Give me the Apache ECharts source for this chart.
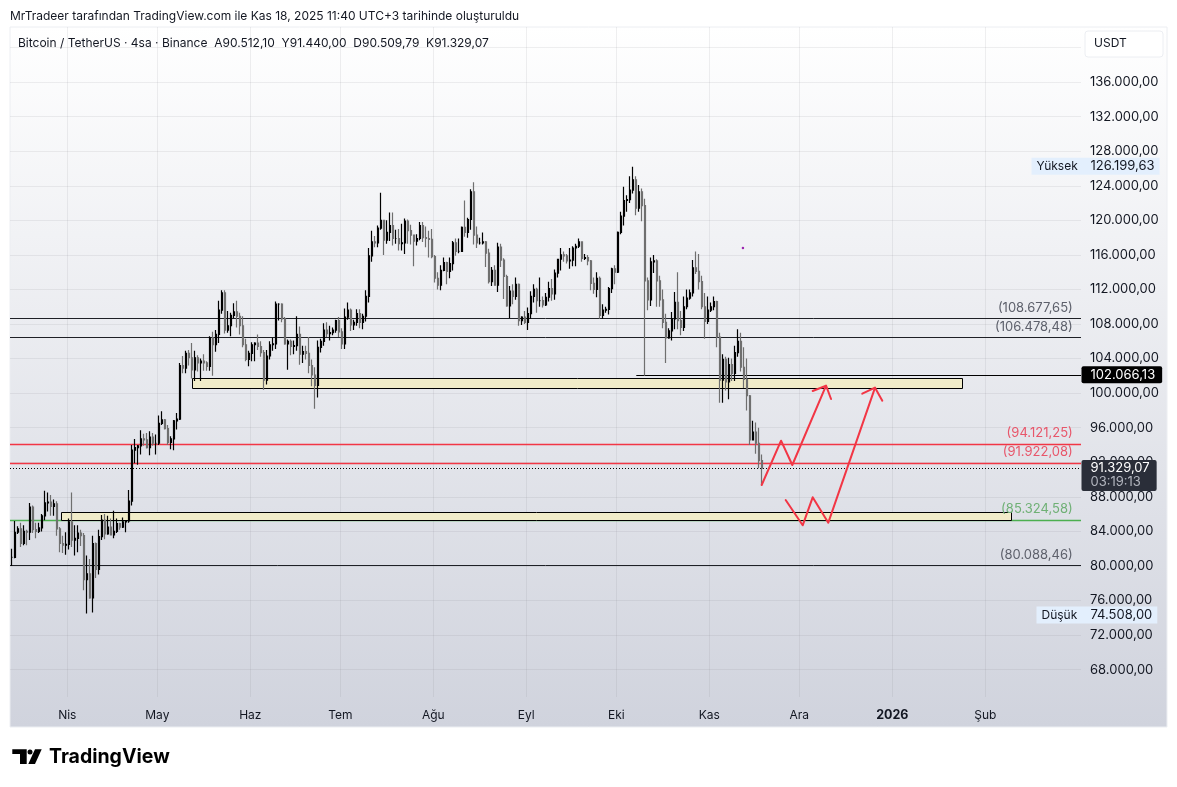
<!DOCTYPE html>
<html>
<head>
<meta charset="utf-8">
<style>
  html, body { margin: 0; padding: 0; background: #fff; }
  #main { width: 1177px; height: 787px; }
</style>
<script src="https://cdn.jsdelivr.net/npm/echarts@6/dist/echarts.min.js"></script>
</head>
<body>
<div id="main"></div>
<script>
// daily bars, first one is Mar 13 2025, last one Nov 18 2025
var firstDay = [2025, 2, 13];

var lows = [
  80000,80900,83700,82200,82400,82400,83000,83800,83200,83800,84000,85300,86300,85800,85800,83500,81600,81500,81300,
  81900,82200,81200,81600,82300,77200,74508,76200,74600,78600,79000,83000,83100,83600,83600,83200,83800,84200,84400,83900,85000,87000,91900,91700,92900,93900,93600,92800,93900,92900,
  94000,96300,95800,94000,93500,93400,95800,96900,102300,102300,103200,101700,101400,102500,101400,102600,102600,102600,102000,104800,105800,109200,106900,107000,106600,108700,107600,106800,105300,103700,103100,
  103700,103700,105000,104200,100400,101000,103900,104900,105100,108400,108200,105600,102700,104400,104500,104900,103300,103500,103900,102300,100800,98200,99500,104700,105500,106500,106100,106700,107000,106500,
  105100,105100,108500,107200,107300,107800,107500,107400,108300,110500,115200,116900,116900,118900,116000,117300,117600,117100,117300,116500,116500,116100,117300,117200,114700,117100,117700,117500,116900,115700,115600,
  112800,112000,111900,114100,112600,113300,114200,115900,116200,116400,118100,118000,118900,117200,116800,117200,117200,114600,112700,112400,112600,111700,114600,110900,110000,108700,110300,110800,107800,107900,108000,
  107300,108600,110500,109300,110000,109900,110100,110600,110700,110800,113400,114200,115200,115000,114400,114700,114700,116800,115200,115400,114800,111900,111500,111100,108600,108600,109300,109100,111600,112600,
  113900,118400,119400,121000,122000,123100,120600,121000,119900,102000,109600,110100,113900,110000,110000,107500,103500,106300,106100,107400,107400,106700,107200,109700,110800,111200,113800,112000,109700,106300,108000,
  109400,109600,105300,98900,98900,100300,99300,101400,101400,104200,102500,100600,98000,94000,94600,93000,91300,89300
];
var highs = [
  82000,85200,84600,85000,84700,84200,87300,87000,85000,85000,86000,88700,88500,88200,87700,87500,84500,83500,83900,
  85500,88500,84700,84700,84200,83800,81200,80800,83500,82700,84200,85900,86000,85800,85500,86400,85500,85000,85600,85300,88800,94000,94700,94000,95700,95300,95400,95600,95400,95200,
  97400,97900,97000,96300,95000,96900,97700,103500,104300,104900,105000,105800,104900,104400,104000,104500,103700,106600,107100,107300,110700,111900,111900,109500,109300,110400,110700,109300,108900,106300,104900,
  105900,105900,106800,106000,105000,105000,106000,106400,110600,110400,110400,108800,106200,106200,106100,108900,107700,105500,105500,106500,103900,103000,106100,106300,108100,108200,107800,107600,108500,108800,
  107500,109800,110500,109800,108500,109700,109700,109200,111900,116800,118800,118200,119400,123200,120000,120000,120900,120900,118900,119000,119600,120200,120100,119500,118300,118400,119800,119800,119300,118800,119000,
  116000,114000,114800,115700,115200,115700,117600,117900,117900,119300,122300,120300,123600,124400,119300,118000,118600,117600,116700,114600,114800,117400,117300,115600,113700,112400,112600,113400,112700,108900,109500,
  109900,111800,112600,112200,113400,111200,111600,112900,113200,114300,115400,116800,116400,116100,116800,117000,117300,117900,117500,116100,116000,115400,113400,114000,113500,110300,110000,112300,114500,114800,
  118700,121000,123900,122900,125100,126199,125100,124100,123700,122500,113400,115700,116000,115500,113600,112000,109200,107500,109400,111700,114000,109500,111200,112000,112000,115400,116400,116100,113600,111600,111200,
  110500,111200,110700,107000,104500,104200,104100,104000,105500,107400,107000,105300,104000,99800,96800,96600,96000,92900
];
var closes = [
  81000,83900,84300,82600,84000,83900,86800,84200,84000,84400,85800,87300,87400,86900,87200,84300,82600,82400,82500,
  85100,83000,83200,83800,83500,78400,79100,76300,82600,79600,83400,85300,83700,84500,83600,84000,84900,84500,85100,85200,87500,93400,93700,93900,94700,94600,93700,94900,94200,94200,
  96500,96900,95900,94300,94700,96800,97000,103200,102900,104600,104100,102700,104100,103500,103700,103500,103100,106400,105600,106800,109600,111600,107300,107800,109000,109400,108900,107800,105600,103900,104600,
  105600,105800,105400,104700,101500,104300,105600,105700,110300,110300,108600,105700,106000,105400,105500,106800,104500,104800,104600,103200,102100,100900,105300,106000,107300,106900,107000,107300,108400,107100,
  105700,108800,109600,107900,108200,109200,108200,108900,111200,115900,117500,117400,119100,120000,117700,118600,119400,117900,117900,117300,117400,119900,118800,118300,117600,117900,119400,118000,117900,117800,115800,
  113300,112500,114200,115100,114100,115000,117400,116400,116400,119200,118600,120100,123300,118300,117400,117400,117500,116200,112900,114200,112500,116900,115400,113500,110100,111800,111200,112600,108400,108800,108200,
  109200,111200,112000,110700,110700,110200,111100,112100,111500,113900,115500,116000,115900,115300,115400,116800,117000,117500,115600,115700,115300,112700,112000,113300,109000,109600,109700,112100,114400,114000,
  118600,120500,122300,122400,123500,124700,121400,123300,121700,113000,110800,115200,115300,113000,110800,108200,106400,107200,108600,110500,108400,107600,110000,111000,111600,114500,114100,112900,110000,108300,109600,
  110000,110600,106500,101500,103900,101300,103300,102300,104700,106000,103000,101600,99700,94600,95500,94200,92200,91329.07
];

// levels drawn across the whole pane
var levelValues = [108677.65, 106478.48, 94121.25, 91922.08, 85324.58, 80088.46];
var levelColors = ["#1e2026", "#1e2026", "#f23645", "#f23645", "#4caf50", "#1e2026"];
var levelWidths = [1, 1, 1.5, 1.5, 1.5, 1];
var levelTextColors = ["#5d606b", "#5d606b", "#e8566a", "#e8566a", "#6fb075", "#5d606b"];

var rayStart = "2025-10-07 16:00";
var rayPrice = 102066.13;
var lastPrice = 91329.07;
var highPrice = 126199.63;
var lowPrice = 74508;

// [from, to, bottom, top]
var zones = [
  ["2025-05-12 14:00", "2026-01-24 05:00", 100560, 101720],
  ["2025-03-30 00:00", "2026-02-09 12:00", 85280, 86210]
];

var arrowOne = [["2025-11-18 11:00", 89370], ["2025-11-24 22:00", 94497], ["2025-11-28 16:00", 91684], ["2025-12-09 22:00", 100862]];
var arrowOneHead = [["2025-12-05 11:00", 100249], ["2025-12-09 22:00", 100862], ["2025-12-11 14:00", 99323]];
var arrowTwo = [["2025-11-26 11:00", 87633], ["2025-12-02 03:00", 84705], ["2025-12-05 11:00", 87946], ["2025-12-10 16:00", 85006], ["2025-12-26 06:00", 100631]];
var arrowTwoHead = [["2025-12-22 00:00", 99936], ["2025-12-26 06:00", 100631], ["2025-12-28 16:00", 99126]];
var purpleDot = [["2025-11-12 05:00", 116800]];

var xMinDate = "2025-03-12 21:36";
var xMaxDate = "2026-03-04 21:36";
var yMin = 64832;
var yMax = 142379;
var xTickDates = ["2025-04-01", "2025-05-01", "2025-06-01", "2025-07-01", "2025-08-01", "2025-09-01", "2025-10-01", "2025-11-01", "2025-12-01", "2026-01-01", "2026-02-01"];
var xTickLabels = ["Nis", "May", "Haz", "Tem", "Ağu", "Eyl", "Eki", "Kas", "Ara", "2026", "Şub"];
var yTickValues = [68000, 72000, 76000, 80000, 84000, 88000, 92000, 96000, 100000, 104000, 108000, 112000, 116000, 120000, 124000, 128000, 132000, 136000];
var yGridValues = yTickValues.concat([140000]);

var font = "Inter";

function ts(s) {
  return echarts.time.parse(s).getTime();
}

function points(list) {
  return list.map(function (p) { return [ts(p[0]), p[1]]; });
}

function fmt(v) {
  return v.toLocaleString("de-DE", { minimumFractionDigits: 2, maximumFractionDigits: 2 });
}

// snap to the pixel grid so 1px lines stay sharp
function crisp(v) {
  return Math.round(v) + 0.5;
}

var xMin = ts(xMinDate);
var xMax = ts(xMaxDate);
var xTicks = xTickDates.map(ts);

var bars = [];
var prevClose = closes[0];
closes.forEach(function (c, i) {
  var t = new Date(firstDay[0], firstDay[1], firstDay[2] + i, 12).getTime();
  bars.push([t, prevClose, c, lows[i], highs[i]]);
  prevClose = c;
});

function lineSeries(data, color, width) {
  return {
    type: "line",
    data: data,
    symbol: "none",
    silent: true,
    z: 5,
    lineStyle: { color: color, width: width, cap: "round", join: "round" }
  };
}

function hLineSeries(rows, z) {
  return {
    type: "custom",
    data: rows.map(function (r) { return [r[0], r[1], r[2]]; }),
    silent: true,
    z: z,
    encode: { x: [0, 1], y: 2 },
    renderItem: function (params, api) {
      var a = api.coord([api.value(0), api.value(2)]);
      var b = api.coord([api.value(1), api.value(2)]);
      var r = rows[params.dataIndex];
      return {
        type: "line",
        shape: { x1: a[0], y1: crisp(a[1]), x2: b[0], y2: crisp(a[1]) },
        style: { stroke: r[3], lineWidth: r[4], lineDash: r[5] || null }
      };
    }
  };
}

var series = [];

series.push(hLineSeries(levelValues.map(function (v, i) {
  return [xMin, xMax, v, levelColors[i], levelWidths[i]];
}).concat([[ts(rayStart), xMax, rayPrice, "#000", 1], [xMin, xMax, lastPrice, "#000", 1, [1, 2]]]), 2));

series.push({
  type: "custom",
  data: zones.map(function (z) { return [ts(z[0]), ts(z[1]), z[2], z[3]]; }),
  silent: true,
  z: 2,
  encode: { x: [0, 1], y: [2, 3] },
  renderItem: function (params, api) {
    var a = api.coord([api.value(0), api.value(3)]);
    var b = api.coord([api.value(1), api.value(2)]);
    var x = crisp(a[0]);
    var y = crisp(a[1]);
    return {
      type: "rect",
      shape: { x: x, y: y, width: crisp(b[0]) - x, height: crisp(b[1]) - y },
      style: { fill: "#f1ecc9", stroke: "#000", lineWidth: 1 }
    };
  }
});

levelValues.forEach(function (v, i) {
  series.push({
    type: "scatter",
    data: [[ts("2026-03-02 08:00"), v]],
    symbolSize: 1,
    itemStyle: { color: "transparent", opacity: 1 },
    silent: true,
    z: 6,
    label: {
      show: true,
      position: [0, 0],
      align: "right",
      verticalAlign: "middle",
      offset: [0, -10],
      formatter: "(" + fmt(v) + ")",
      color: levelTextColors[i],
      fontFamily: font,
      fontSize: 13
    }
  });
});

series.push({
  type: "candlestick",
  data: bars,
  barWidth: 1.5,
  silent: true,
  z: 4,
  itemStyle: { color: "#000", color0: "#6f6f6f", borderColor: "#000", borderColor0: "#6f6f6f", borderWidth: 1.2 }
});

[arrowOne, arrowOneHead, arrowTwo, arrowTwoHead].forEach(function (d) {
  series.push(lineSeries(points(d), "#f23645", 2));
});

series.push({ type: "scatter", data: points(purpleDot), symbolSize: 2.5, silent: true, z: 5, itemStyle: { color: "#9c27b0", opacity: 1 } });

// price tags sit on the axis, so they hang off the right edge of the pane
function axisTag(value, formatter, opts) {
  return {
    type: "scatter",
    data: [[xMax, value]],
    symbolSize: 1,
    clip: false,
    silent: true,
    z: 8,
    itemStyle: { color: "transparent", opacity: 1 },
    label: Object.assign({
      show: true,
      position: [0, 0],
      verticalAlign: "middle",
      align: "left",
      formatter: formatter,
      fontFamily: font,
      fontSize: 13
    }, opts)
  };
}

series.push(axisTag(rayPrice, fmt(rayPrice), {
  offset: [1, 0], color: "#fff", backgroundColor: "#000", borderRadius: 2, padding: [2, 7, 2, 9]
}));
series.push(axisTag(lastPrice, "{a|" + fmt(lastPrice) + "}\n{b|03:19:13}", {
  offset: [1, 8], backgroundColor: "#2a2e39", borderRadius: 2, padding: [1, 7, 1, 9],
  rich: {
    a: { color: "#fff", fontFamily: font, fontSize: 13, lineHeight: 14 },
    b: { color: "#b2b5be", fontFamily: font, fontSize: 13, lineHeight: 15 }
  }
}));
series.push(axisTag(highPrice, "{a|Yüksek}{b|" + fmt(highPrice) + "}", {
  offset: [-49, 0], backgroundColor: "#e3effd", padding: [2, 5, 2, 5],
  rich: {
    a: { color: "#131722", fontFamily: font, fontSize: 12, width: 54 },
    b: { color: "#131722", fontFamily: font, fontSize: 13 }
  }
}));
series.push(axisTag(lowPrice, "{a|Düşük}{b|" + fmt(lowPrice) + "}", {
  offset: [-44, 2], backgroundColor: "#e3effd", padding: [2, 5, 2, 5],
  rich: {
    a: { color: "#131722", fontFamily: font, fontSize: 12, width: 49 },
    b: { color: "#131722", fontFamily: font, fontSize: 13 }
  }
}));

var myChart = echarts.init(document.getElementById("main"), null, { renderer: "canvas" });

myChart.setOption({
  animation: false,
  backgroundColor: "#fff",
  grid: { left: 10, right: 96, top: 27, height: 670 },
  xAxis: {
    type: "value",
    min: xMin,
    max: xMax,
    axisLine: { show: false },
    axisTick: { show: false, customValues: xTicks },
    splitLine: { show: true, lineStyle: { color: "rgba(120,123,134,0.12)", width: 1 } },
    axisLabel: {
      customValues: xTicks,
      margin: 12,
      color: "#131722",
      fontFamily: font,
      fontSize: 12,
      formatter: function (value) {
        var text = xTickLabels[xTicks.indexOf(value)];
        return text === "2026" ? "{y|2026}" : text;
      },
      rich: { y: { fontFamily: font, fontSize: 12.5, fontWeight: "bold", color: "#131722" } }
    }
  },
  yAxis: {
    type: "value",
    position: "right",
    min: yMin,
    max: yMax,
    axisLine: { show: false },
    axisTick: { show: false, customValues: yGridValues },
    splitLine: { show: true, lineStyle: { color: "rgba(120,123,134,0.12)", width: 1 } },
    axisLabel: {
      customValues: yTickValues,
      margin: 9,
      color: "#131722",
      fontFamily: font,
      fontSize: 13,
      formatter: function (v) { return fmt(v); }
    }
  },
  graphic: [
    {
      type: "rect",
      z: -1,
      shape: { x: 10, y: 27, width: 1157, height: 700 },
      style: {
        fill: new echarts.graphic.LinearGradient(0, 0, 0, 1, [
          { offset: 0, color: "#ffffff" },
          { offset: 1, color: "#d0d3dd" }
        ]),
        stroke: "#eceef2",
        lineWidth: 1
      }
    },
    {
      type: "text",
      left: 10,
      top: 10,
      style: {
        text: "MrTradeer tarafından TradingView.com ile Kas 18, 2025 11:40 UTC+3 tarihinde oluşturuldu",
        font: "12px " + font,
        fill: "#131722"
      }
    },
    {
      type: "text",
      left: 18,
      top: 37,
      z: 10,
      style: {
        text: "Bitcoin / TetherUS · 4sa · Binance  A90.512,10  Y91.440,00  D90.509,79  K91.329,07",
        font: "12px " + font,
        fill: "#131722"
      }
    },
    {
      type: "rect",
      z: 10,
      shape: { x: 1085, y: 31, width: 78, height: 26, r: 3 },
      style: { fill: "#fff", stroke: "#eceef2", lineWidth: 1 }
    },
    {
      type: "text",
      left: 1094,
      top: 37,
      z: 11,
      style: { text: "USDT", font: "12px " + font, fill: "#131722" }
    },
    // TradingView logo
    {
      type: "polygon",
      shape: { points: [[12.3, 749.3], [26.7, 749.3], [26.7, 764], [20, 764], [20, 754], [12.3, 754]] },
      style: { fill: "#000" }
    },
    { type: "circle", shape: { cx: 30, cy: 752, r: 2.5 }, style: { fill: "#000" } },
    {
      type: "polygon",
      shape: { points: [[41.7, 749.3], [35, 764], [28.3, 764], [35, 749.3]] },
      style: { fill: "#000" }
    },
    {
      type: "text",
      left: 49,
      top: 747,
      style: { text: "TradingView", font: "700 19.5px " + font, fill: "#000" }
    }
  ],
  series: series
});
</script>
</body>
</html>
